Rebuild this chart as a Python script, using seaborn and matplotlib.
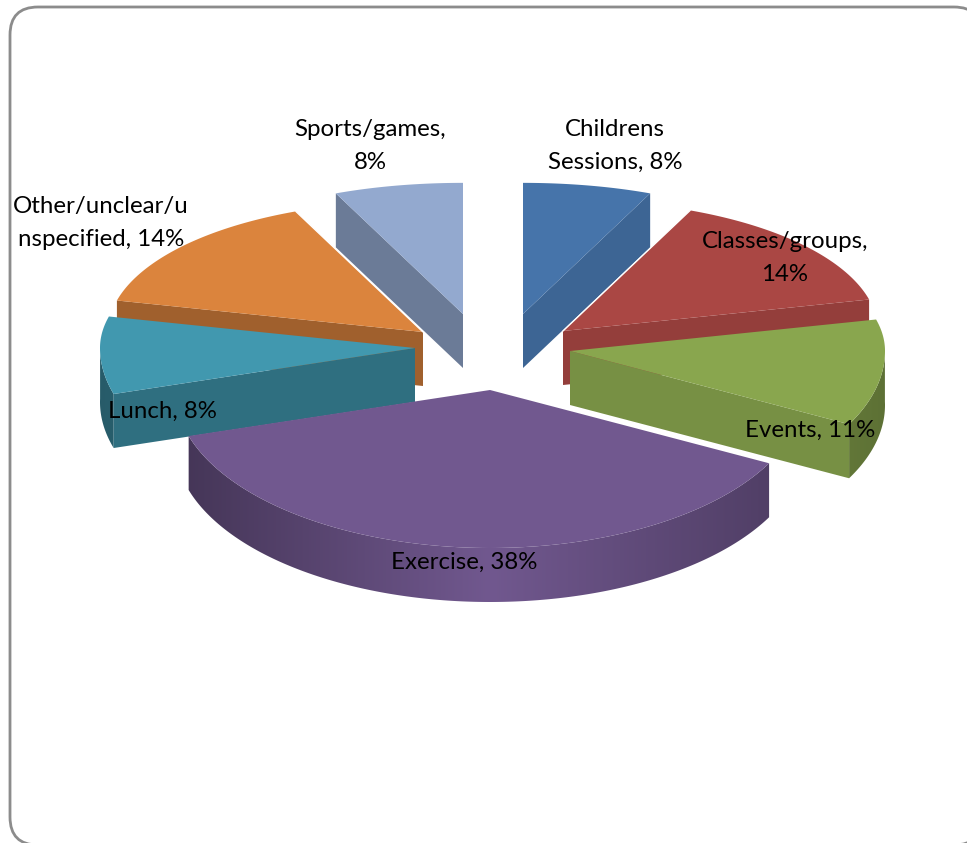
"""Exploded 3D-style pie chart of session types."""

import matplotlib
matplotlib.use("Agg")
import matplotlib.pyplot as plt
from matplotlib.patches import FancyBboxPatch, Polygon
import numpy as np
import seaborn as sns

CATEGORIES = ["Childrens Sessions", "Classes/groups", "Events", "Exercise",
              "Lunch", "Other/unclear/unspecified", "Sports/games"]
SHARES = [8, 14, 11, 38, 8, 14, 8]
LABELS = ["Childrens\nSessions, 8%", "Classes/groups,\n14%", "Events, 11%", "Exercise, 38%",
          "Lunch, 8%", "Other/unclear/u\nnspecified, 14%", "Sports/games,\n8%"]
SLICE_COLORS = ["#4674AA", "#AA4744", "#89A64E", "#71588F", "#4198AF", "#DB843D", "#93A9CF"]

# layout, all in figure pixels
EXPLODE_X = [30, 70, 77, -3, -78, -70, -30]
EXPLODE_Y = [-31, -14, 6, 45, 3, -13, -31]
LABEL_X = [615, 785, 810, 464, 162, 101, 370]
LABEL_Y = [146, 258, 430, 562, 411, 223, 146]
CENTER = (493, 345)
RX, RY = 315, 158
DEPTH = 54
SHRINK_X, SHRINK_Y = 0.2, 0.17

sns.set_theme(style="white")
plt.rcParams["font.family"] = ["Lato", "DejaVu Sans"]
palette = sns.color_palette(SLICE_COLORS)


def project(theta, apex):
    """Angle clockwise from the top to screen position, far side pulled in."""
    x, y = np.sin(theta), np.cos(theta)
    far = np.clip(y, 0, None) ** 2
    return apex[0] + RX * x * (1 - SHRINK_X * far), apex[1] - RY * y * (1 - SHRINK_Y * far)


def shade(color, factor):
    return tuple(c * factor for c in color)


def radial_wall(ax, apex, theta, color, z):
    ex, ey = project(theta, apex)
    factor = 0.87 if np.sin(theta) > 0 else 0.73
    pts = [apex, (ex, ey), (ex, ey + DEPTH), (apex[0], apex[1] + DEPTH)]
    ax.add_patch(Polygon(pts, closed=True, fc=shade(color, factor), ec="none", zorder=z))


def arc_wall(ax, start, end, apex, color, z):
    """Curved outer wall, a gradient clipped to the front part of the arc."""
    thetas = np.linspace(start, end, 200)
    thetas = thetas[np.cos(thetas) <= 0.02]
    if len(thetas) < 2:
        return
    xs, ys = project(thetas, apex)
    outline = np.column_stack([np.r_[xs, xs[::-1]], np.r_[ys, ys[::-1] + DEPTH]])
    clip = Polygon(outline, closed=True, transform=ax.transData)
    ramp = np.linspace(-1, 1, 400)
    factors = 1 - np.where(ramp < 0, 0.4, 0.32) * np.abs(ramp)
    gradient = np.array([[shade(color, f) for f in factors]])
    im = ax.imshow(gradient, extent=(apex[0] - RX, apex[0] + RX, apex[1] + 400, apex[1] - 400),
                   aspect="auto", interpolation="bilinear", zorder=z)
    im.set_clip_path(clip)


def draw_slice(ax, start, end, apex, color, z):
    arc_wall(ax, start, end, apex, color, z)
    # a flat wall only shows when its outward side faces the viewer
    if np.sin(start) < -1e-6:
        radial_wall(ax, apex, start, color, z + 0.1)
    if np.sin(end) > 1e-6:
        radial_wall(ax, apex, end, color, z + 0.1)

    thetas = np.linspace(start, end, 120)
    xs, ys = project(thetas, apex)
    top = np.column_stack([np.r_[apex[0], xs], np.r_[apex[1], ys]])
    ax.add_patch(Polygon(top, closed=True, fc=color, ec="none", zorder=z + 0.2))


fig = plt.figure(figsize=(9.67, 8.43), dpi=100)
ax = fig.add_axes([0, 0, 1, 1])
ax.axis("off")

ax.add_patch(FancyBboxPatch((35, 32), 957 - 35, 820 - 32,
                            boxstyle="round,pad=25,rounding_size=28",
                            fc="white", ec="#8C8C8C", lw=2, zorder=0))

edges = np.radians(np.r_[0, np.cumsum(SHARES)] / sum(SHARES) * 360)
apexes = [(CENTER[0] + dx, CENTER[1] + dy) for dx, dy in zip(EXPLODE_X, EXPLODE_Y)]

for z, i in enumerate(np.argsort(EXPLODE_Y, kind="stable"), start=1):
    draw_slice(ax, edges[i], edges[i + 1], apexes[i], palette[i], z)
    # thin light seam where a slice lies against the wall of a back slice
    if CATEGORIES[i] == "Classes/groups":
        ex, ey = project(edges[i], apexes[i])
        ax.plot([apexes[i][0], ex], [apexes[i][1], ey], color="white", lw=1, zorder=z + 0.3)
    if CATEGORIES[i].startswith("Other"):
        ex, ey = project(edges[i + 1], apexes[i])
        ax.plot([apexes[i][0], ex], [apexes[i][1], ey], color="white", lw=1, zorder=z + 0.3)

for label, x, y in zip(LABELS, LABEL_X, LABEL_Y):
    ax.text(x, y, label, ha="center", va="center", fontsize=17.3,
            color="black", linespacing=1.7, zorder=20)

ax.set_xlim(0, 967)
ax.set_ylim(843, 0)

fig.savefig("out.png", dpi=100)
plt.close(fig)
